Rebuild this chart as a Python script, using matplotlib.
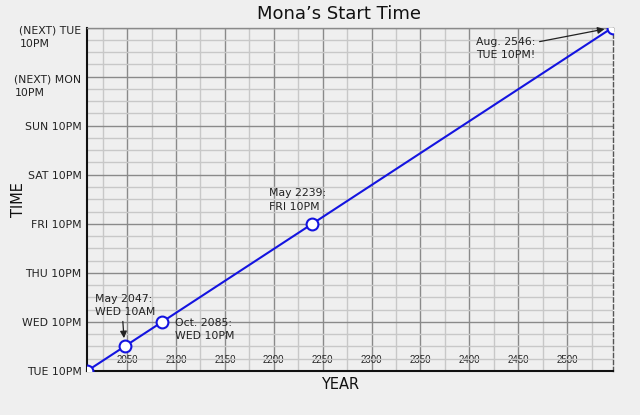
import matplotlib
matplotlib.use('Agg')
import matplotlib.pyplot as plt
from matplotlib.ticker import MultipleLocator
from matplotlib.transforms import ScaledTranslation

# datos: año (decimal) y horas desde el martes 10PM
years = [2009.0, 2047.4, 2085.8, 2239.4, 2546.6]
hours = [0, 12, 24, 72, 168]
notes = ['', 'May 2047:\nWED 10AM', 'Oct. 2085:\nWED 10PM', 'May 2239:\nFRI 10PM', 'Aug. 2546:\nTUE 10PM!']

x_ticks = [2050, 2100, 2150, 2200, 2250, 2300, 2350, 2400, 2450, 2500]
y_ticks = [0, 24, 48, 72, 96, 120, 144, 168]
y_labels = ['TUE 10PM', 'WED 10PM', 'THU 10PM', 'FRI 10PM', 'SAT 10PM',
            'SUN 10PM', '(NEXT) MON\n10PM', '(NEXT) TUE\n10PM']

bg = '#efefef'
blue = '#1414e0'

fig = plt.figure(figsize=(6.4, 4.15), dpi=100, facecolor=bg)
ax = fig.add_axes([87 / 640, 1 - 371 / 415, 525.7 / 640, 343.5 / 415], facecolor=bg)

ax.plot(years, hours, color=blue, lw=1.5, marker='o', ms=8.5, mfc='white',
        mec=blue, mew=1.5, zorder=3)

ax.set_xlim(2009.0, 2546.6)
ax.set_ylim(0, 168)

ax.tick_params(axis='x', which='both', length=0, pad=-11.5)
ax.tick_params(axis='y', which='both', length=0, pad=4)

# rejilla
ax.set_xticks(x_ticks)
ax.xaxis.set_minor_locator(MultipleLocator(25))
ax.set_yticks(y_ticks)
ax.set_yticklabels(y_labels, fontsize=7.8, color='#222222')
ax.yaxis.set_minor_locator(MultipleLocator(6))
for lbl in ax.get_yticklabels():
    lbl.set_multialignment('left')
    if '\n' in lbl.get_text():
        # primera línea alineada con la marca
        lbl.set_linespacing(1.4)
        lbl.set_transform(lbl.get_transform() + ScaledTranslation(0, -5.2 / 72, fig.dpi_scale_trans))
ax.set_xticklabels([str(t) for t in x_ticks], fontsize=7, family='Liberation Sans', color='#222222')

ax.grid(which='major', color='#8a8a8a', lw=1.0, zorder=0)
ax.grid(which='minor', color='#c8c8c8', lw=1.0, zorder=0)
ax.set_axisbelow(True)

for s in ['left', 'bottom']:
    ax.spines[s].set_color('#111111')
    ax.spines[s].set_linewidth(1.5)
ax.spines['top'].set_color('#8a8a8a')
ax.spines['top'].set_linewidth(1.0)
ax.spines['right'].set_color('#555555')
ax.spines['right'].set_linestyle((0, (3, 2)))
ax.spines['right'].set_linewidth(1.0)

# anotaciones
arrow = dict(arrowstyle='-|>', color='#222222', lw=0.9, mutation_scale=10,
             shrinkA=1, shrinkB=6)
txt = dict(textcoords='offset points', ha='left', va='top', fontsize=7.8,
           color='#222222', linespacing=1.45)
ax.annotate(notes[1], xy=(years[1], hours[1]), xytext=(-21, 38), **txt,
            arrowprops=dict(arrow, relpos=(0.45, 0.0)))
ax.annotate(notes[2], xy=(years[2], hours[2]), xytext=(9.3, 3), **txt)
ax.annotate(notes[3], xy=(years[3], hours[3]), xytext=(-31, 25.5), **txt)
ax.annotate(notes[4], xy=(years[4], hours[4]), xytext=(-98.4, -6.5), **txt,
            arrowprops=dict(arrow, relpos=(1.0, 0.75)), annotation_clip=False)

fig.text(339 / 640, 1 - 14 / 415, 'Mona\u2019s Start Time', ha='center', va='center',
         fontsize=13, color='#111111')
ax.set_xlabel('YEAR', fontsize=10.5, color='#111111')
ax.xaxis.set_label_coords((340 - 87) / 525.7, -6 / 343.5)
ax.set_ylabel('TIME', fontsize=10.5, color='#111111')
ax.yaxis.set_label_coords(-(87 - 26) / 525.7, 0.5)

fig.savefig('out.png', dpi=100, facecolor=bg)
